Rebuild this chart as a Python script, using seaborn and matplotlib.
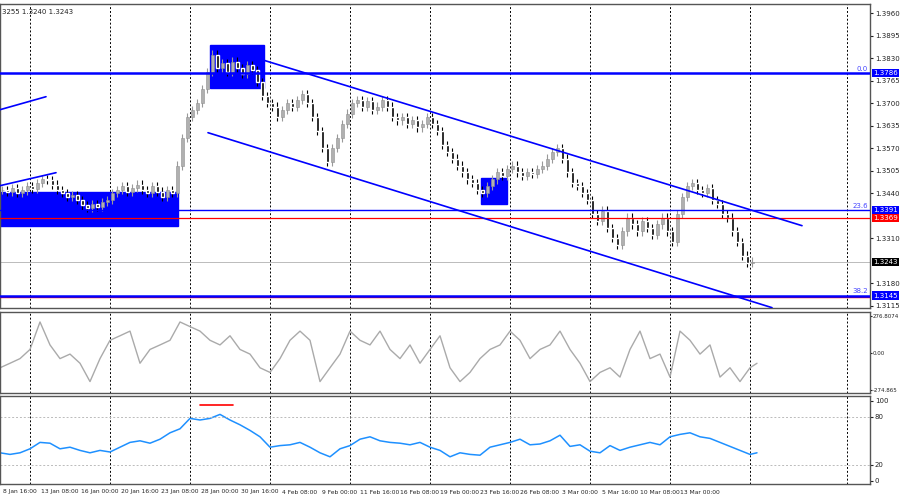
import numpy as np
import pandas as pd
import matplotlib
matplotlib.use("Agg")
import matplotlib.pyplot as plt
import seaborn as sns
from matplotlib.patches import Rectangle

sns.set_style("white")
plt.rcParams['font.family'] = ['DejaVu Sans']

closes = [1.3450,1.3445,1.3455,1.3440,1.3448,1.3460,1.3452,1.3470,1.3480,1.3478,1.3465,1.3450,
          1.3440,1.3430,1.3435,1.3420,1.3405,1.3398,1.3410,1.3400,1.3415,1.3420,
          1.3440,1.3450,1.3460,1.3445,1.3455,1.3465,1.3450,1.3440,1.3460,1.3445,1.3430,1.3450,1.3440,
          1.3520,1.3600,1.3660,1.3680,1.3700,1.3740,1.3790,1.3840,
          1.3800,1.3815,1.3790,1.3820,1.3800,1.3785,1.3810,1.3795,1.3760,
          1.3720,1.3700,1.3690,1.3660,1.3680,1.3700,1.3690,1.3710,1.3725,1.3700,1.3660,
          1.3620,1.3570,1.3530,1.3570,1.3600,1.3640,1.3670,1.3700,1.3710,
          1.3690,1.3705,1.3680,1.3690,1.3710,1.3690,1.3660,1.3650,1.3660,1.3640,1.3650,1.3630,1.3640,1.3660,
          1.3640,1.3620,1.3580,1.3560,1.3540,1.3520,1.3500,1.3480,1.3470,1.3450,1.3440,1.3460,1.3480,1.3500,
          1.3490,1.3510,1.3520,1.3500,1.3490,1.3500,1.3495,1.3510,1.3520,1.3540,1.3560,1.3570,
          1.3540,1.3500,1.3470,1.3460,1.3440,1.3420,1.3380,1.3360,1.3390,1.3340,1.3310,1.3290,
          1.3330,1.3370,1.3350,1.3330,1.3360,1.3340,1.3320,1.3350,1.3370,1.3330,1.3300,1.3380,
          1.3430,1.3460,1.3470,1.3450,1.3440,1.3455,1.3420,1.3410,1.3380,1.3370,1.3330,1.3300,1.3260,1.3240,1.3243]
wick = 0.0012

cci = [-110,-76,-41,28,235,62,-41,-7,-76,-214,-41,97,131,166,-76,28,62,97,235,200,166,97,62,131,28,-7,
       -110,-145,-41,97,166,97,-214,-110,-7,166,97,62,166,28,-41,62,-76,28,131,-110,-214,-145,-41,28,
       62,166,97,-41,28,62,166,28,-76,-214,-145,-110,-180,28,166,-41,-7,-180,166,97,-7,62,-180,-110,-214,-110,-76]

rsi = [35,33,35,40,48,47,40,42,38,35,38,36,42,48,50,47,52,60,65,78,76,78,83,76,70,63,55,42,44,45,48,42,
       35,30,40,44,52,55,50,48,47,45,48,42,38,30,35,33,32,42,45,48,52,45,46,50,57,43,45,37,35,44,38,42,
       45,48,45,55,58,60,55,53,48,43,38,33,35]

date_labels = ["8 Jan 16:00","13 Jan 08:00","16 Jan 00:00","20 Jan 16:00","23 Jan 08:00","28 Jan 00:00",
               "30 Jan 16:00","4 Feb 08:00","9 Feb 00:00","11 Feb 16:00","16 Feb 08:00","19 Feb 00:00",
               "23 Feb 16:00","26 Feb 08:00","3 Mar 00:00","5 Mar 16:00","10 Mar 08:00","13 Mar 00:00"]
price_ticks = [1.3960,1.3895,1.3830,1.3765,1.3700,1.3635,1.3570,1.3505,1.3440,1.3310,1.3180,1.3115]

fig = plt.figure(figsize=(9,5), dpi=100)
W = 870/900
ax = fig.add_axes([0, 1-308/500, W, 304/500])
ax2 = fig.add_axes([0, 1-393/500, W, 81/500])
ax3 = fig.add_axes([0, 1-484/500, W, 88/500])

XMAX = 870
grid_x = [30+80*k for k in range(10)] + [847]
for a in (ax, ax2, ax3):
    a.set_xlim(0, XMAX)
    for gx in grid_x:
        a.axvline(gx, color='black', ls=(0,(2,2)), lw=0.7, zorder=0)
    a.yaxis.tick_right()
    a.tick_params(axis='y', labelsize=5, length=2, pad=1.5, colors='#222')
    for s in a.spines.values():
        s.set_color('#555'); s.set_linewidth(1)
    a.set_xticks([])

cx = np.array([5*i+2 for i in range(len(closes))], float)
c = np.array(closes)
o = np.concatenate([[c[0]], c[:-1]])
hi = np.maximum(o, c) + wick
lo = np.minimum(o, c) - wick
up = c >= o
ax.vlines(cx, lo, hi, color=np.where(up, '#999999', '#000000'), lw=0.8, zorder=3)
ax.bar(cx[up], (c-o)[up], bottom=o[up], width=3, color='#b0b0b0', edgecolor='#909090', lw=0.4, zorder=4)
ax.bar(cx[~up], (o-c)[~up], bottom=c[~up], width=3, color='#000000', zorder=4)
ax.set_ylim(1.3109, 1.3986)
ax.set_yticks(price_ticks)
ax.set_yticklabels([f"{t:.4f}" for t in price_ticks])

def py(y):
    return 1.3960 - (y-13.3)/3467

for (x0, x1, y0, y1) in [(0,178,192,226),(210,264,45,88),(481,507,178,204)]:
    ax.add_patch(Rectangle((x0, py(y1)), x1-x0, py(y0)-py(y1), color='#0000ff', zorder=2))
ax.axhline(1.3786, color='#0000ff', lw=1.8, zorder=5)
ax.axhline(1.3391, color='#0000ff', lw=1, zorder=5)
ax.axhline(1.3369, color='#ff0000', lw=0.9, zorder=5)
ax.axhline(1.3243, color='#bbbbbb', lw=0.7, zorder=1)
ax.axhline(1.3141, color='#ff0000', lw=1, zorder=5)
ax.axhline(1.3145, color='#0000ff', lw=1.8, zorder=5)
for (x0,y0,x1,y1) in [(262,60,802,226),(208,133,772,308),(0,110,46,97),(0,186,56,173)]:
    ax.plot([x0,x1],[py(y0),py(y1)], color='#0000ff', lw=1.2, zorder=6)
for lab, val in [("0.0",1.3786),("23.6",1.3391),("38.2",1.3145)]:
    ax.text(868, val+0.0003, lab, color='#4444ff', fontsize=5, ha='right', va='bottom')
for val, col in [(1.3786,'#0000ff'),(1.3391,'#0000ff'),(1.3369,'#ff0000'),(1.3243,'#000000'),(1.3145,'#0000ff')]:
    ax.text(873, val, f"{val:.4f}", color='white', fontsize=5, va='center', ha='left',
            clip_on=False, bbox=dict(boxstyle='square,pad=0.15', fc=col, ec='none'))
ax.text(2, 1.3962, "3255 1.3240 1.3243", fontsize=5, color='#222', va='center')

xc = np.array([min(10*i, 757) for i in range(len(cci))])
sns.lineplot(x=xc, y=cci, ax=ax2, color='#aaaaaa', lw=1)
ax2.set_ylim(-300, 310)
ax2.set_yticks([276.8074, 0, -274.865])
ax2.set_yticklabels(["276.8074","0.00","-274.865"], fontsize=4.0)
ax2.tick_params(axis='y', pad=0.5, length=1.5)
ax2.set_ylabel("")

xr = np.array([min(10*i, 757) for i in range(len(rsi))])
sns.lineplot(x=xr, y=rsi, ax=ax3, color='#1e90ff', lw=1.1)
for lv in (80, 20):
    ax3.axhline(lv, color='#bbbbbb', ls=(0,(2,2)), lw=0.7)
ax3.plot([200,233],[95,95], color='#ff0000', lw=1.2)
ax3.set_ylim(-4, 106)
ax3.set_yticks([100,80,20,0])
ax3.set_ylabel("")

for i, lab in enumerate(date_labels):
    fig.text((20+40*i)/900, 1-492/500, lab, fontsize=4.3, ha='center', va='center', color='#222')

fig.savefig("out.png", dpi=100)
